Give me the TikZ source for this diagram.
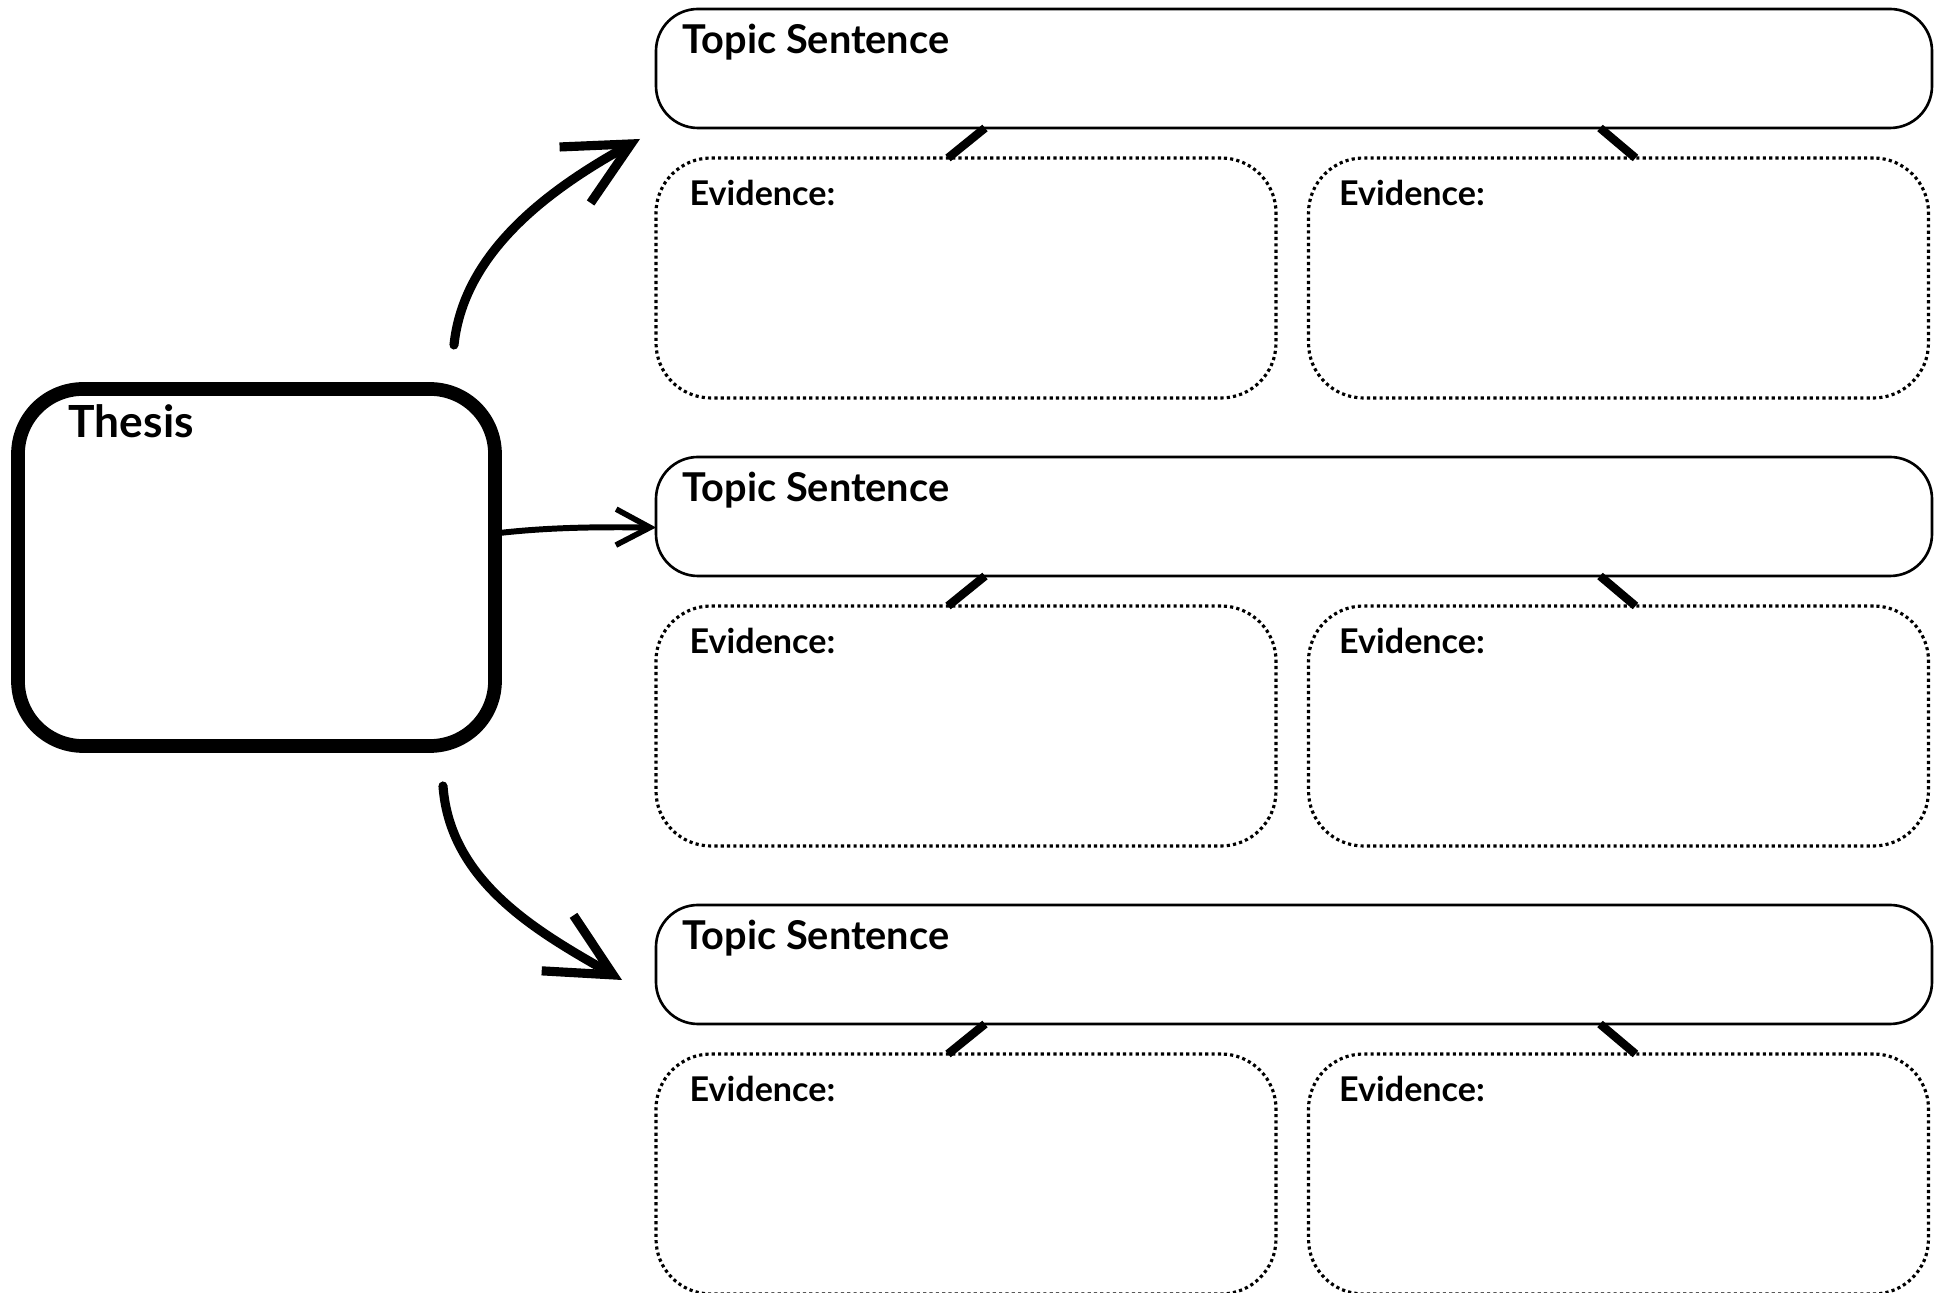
\documentclass[tikz,border=0pt]{standalone}
\usepackage{fontspec}
\setmainfont{Lato}
\usetikzlibrary{arrows.meta,calc}

\tikzset{
    thesisbox/.style={draw, line width=3.9pt, rounded corners=0.65cm, minimum width=4.77cm, minimum height=3.57cm, inner sep=0pt, outer sep=0pt},
    topicbox/.style={draw, line width=0.75pt, rounded corners=0.42cm, minimum width=12.76cm, minimum height=1.19cm, inner sep=0pt, outer sep=0pt},
    evidbox/.style={draw, line width=0.9pt, dash pattern=on 0.9pt off 0.9pt, rounded corners=0.55cm, minimum width=6.2cm, minimum height=2.4cm, inner sep=0pt, outer sep=0pt},
    thesislbl/.style={anchor=base west, inner sep=0pt, font=\fontsize{12.6}{14}\selectfont\bfseries},
    topiclbl/.style={anchor=base west, inner sep=0pt, font=\fontsize{11.3}{13}\selectfont\bfseries},
    evidlbl/.style={anchor=base west, inner sep=0pt, font=\fontsize{9.7}{11}\selectfont\bfseries},
    stem/.style={line width=2.4pt},
    bigarrow/.style={line width=2.6pt, line cap=round, -{Straight Barb[length=6.4mm, width=6.4mm, line width=2.6pt]}},
    smallarrow/.style={line width=1.7pt, line cap=round, -{Straight Barb[length=3.4mm, width=3.6mm, line width=1.6pt]}}
}

\begin{document}
\begin{tikzpicture}[x=1cm, y=1cm]
    \useasboundingbox (0,0) rectangle (19.42,12.93);
    % Thesis
    \node[thesisbox] (thesis) at (2.565,7.255) {};
    \node[thesislbl] (thesis-lbl) at ($(thesis.north west)+(0.50,-0.49)$) {Thesis};
    % Topic sentences with evidence
    \foreach \r/\yt/\ye in {1/12.245/10.15, 2/7.765/5.67, 3/3.285/1.19}
    {
    \node[topicbox] (t\r) at (12.94,\yt) {};
    \node[topiclbl] (t\r-lbl) at ($(t\r.north west)+(0.26,-0.45)$) {Topic Sentence};
    \node[evidbox] (el\r) at (9.66,\ye) {};
    \node[evidbox] (er\r) at (16.185,\ye) {};
    \node[evidlbl] (el\r-lbl) at ($(el\r.north west)+(0.33,-0.48)$) {Evidence:};
    \node[evidlbl] (er\r-lbl) at ($(er\r.north west)+(0.30,-0.48)$) {Evidence:};
    \draw[stem] ([xshift=3.29cm]t\r.south west) -- ([xshift=2.92cm]el\r.north west);
    \draw[stem] ([xshift=-3.32cm]t\r.south east) -- ([xshift=-2.93cm]er\r.north east);
    }
    % Arrows
    \draw[bigarrow] ($(thesis.north east)+(-0.41,0.44)$)
        .. controls (4.64,10.45) and (5.57,11.08) .. ($(t1.south west)+(-0.16,-0.11)$);
    \draw[smallarrow] ([yshift=0.34cm]thesis.east)
        .. controls (5.5,7.66) and (6.0,7.66) .. ([yshift=-0.11cm]t2.west);
    \draw[bigarrow] ($(thesis.south east)+(-0.52,-0.40)$)
        .. controls (4.50,4.10) and (5.40,3.60) .. ($(t3.north west)+(-0.34,-0.75)$);
\end{tikzpicture}
\end{document}
